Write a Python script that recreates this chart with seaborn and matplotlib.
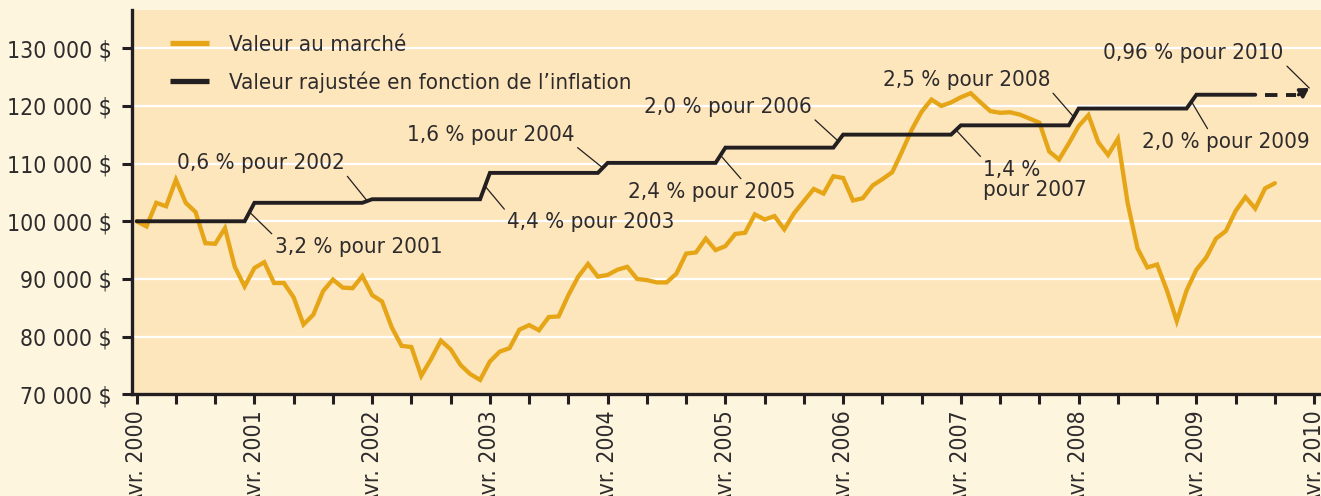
import numpy as np
import pandas as pd
import seaborn as sns
import matplotlib.pyplot as plt
from matplotlib import font_manager
from matplotlib.lines import Line2D
from matplotlib.ticker import FixedLocator, FuncFormatter

# Valeur au marché, une valeur par mois (avril 2000 -> décembre 2009)
market_value = [
    100000, 99100, 103200, 102600, 107200, 103200, 101600, 96200, 96100, 98800,
    92100, 88700, 91900, 92900, 89300, 89300, 86800, 82100, 83800, 87900,
    89900, 88500, 88400, 90500, 87200, 86100, 81600, 78400, 78200, 73200,
    76100, 79300, 77800, 75100, 73500, 72500, 75700, 77400, 78000, 81200,
    82000, 81100, 83400, 83500, 87200, 90400, 92600, 90400, 90700, 91600,
    92100, 90000, 89800, 89400, 89400, 90900, 94400, 94600, 97000, 95000,
    95700, 97800, 98000, 101200, 100300, 100900, 98600, 101400, 103500, 105600,
    104800, 107800, 107500, 103600, 104000, 106200, 107300, 108500, 112100, 115900,
    119000, 121100, 120000, 120600, 121500, 122200, 120600, 119100, 118800, 118900,
    118500, 117800, 117100, 112100, 110700, 113500, 116500, 118400, 113700, 111500,
    114300, 103100, 95300, 92000, 92500, 88000, 82700, 88000, 91600, 93700,
    97000, 98300, 101800, 104200, 102200, 105700, 106600,
]

# Taux d'inflation annuels (appliqués en avril)
inflation_years = [2001, 2002, 2003, 2004, 2005, 2006, 2007, 2008, 2009, 2010]
inflation_rates = [3.2, 0.6, 4.4, 1.6, 2.4, 2.0, 1.4, 2.5, 2.0, 0.96]

y_ticks = [70000, 80000, 90000, 100000, 110000, 120000, 130000]

# couleurs
FIG_BG = "#FEF5DF"
AX_BG = "#FDE6BC"
ORANGE = "#E6A517"
BLACK = "#231F20"
TEXT = "#2E2B2C"

sns.set_style("white", {"axes.facecolor": AX_BG, "figure.facecolor": FIG_BG})

# police étroite si disponible
fonts = font_manager.fontManager.ttflist
if any(f.name == "DejaVu Sans" and f.stretch == "condensed" for f in fonts):
    plt.rcParams["font.family"] = ["DejaVu Sans"]
    plt.rcParams["font.stretch"] = "condensed"
    fs = 16
elif any(f.name == "Liberation Sans Narrow" for f in fonts):
    plt.rcParams["font.family"] = ["Liberation Sans Narrow", "DejaVu Sans"]
    fs = 18.5
else:
    plt.rcParams["font.family"] = ["DejaVu Sans"]
    fs = 14

# niveaux ajustés : 100 000 $ puis un palier par année
levels = 100000 * np.cumprod([1.0] + [1 + r / 100 for r in inflation_rates])
n_solid = 115
months = np.arange(n_solid)
adjusted = levels[months // 12]

market = pd.DataFrame({"mois": np.arange(len(market_value)), "valeur": market_value})
adj = pd.DataFrame({"mois": months, "valeur": adjusted})

fig = plt.figure(figsize=(13.21, 4.96), dpi=100)
ax = fig.add_axes([0.0999, 0.205, 0.9001, 0.775])

ax.grid(axis="y", color="white", lw=1.6)
ax.set_axisbelow(True)

sns.lineplot(data=market, x="mois", y="valeur", color=ORANGE, lw=3.1, ax=ax,
             solid_joinstyle="miter", zorder=3)
sns.lineplot(data=adj, x="mois", y="valeur", color=BLACK, lw=2.8, ax=ax,
             solid_joinstyle="miter", zorder=4)

# prolongement pointillé pour 2010
ax.plot([n_solid, 118.2], [levels[9], levels[9]], color=BLACK, lw=2.8,
        dashes=(3.2, 2.2), zorder=4)
tip = (119.5, levels[10])
ax.annotate("", xy=tip, xytext=(118.4, levels[9]),
            arrowprops=dict(arrowstyle="-|>,head_length=0.5,head_width=0.3",
                            color=BLACK, lw=2.4, shrinkA=0, shrinkB=0,
                            mutation_scale=10), zorder=4)


def rate_text(r):
    s = f"{r:.2f}"
    if s.endswith("0"):
        s = s[:-1]
    return s.replace(".", ",")


# position des étiquettes (mois, valeur), alignement, point d'attache du trait
label_pos = {
    2001: ((14.1, 95540), "left", (0, 1)),
    2002: ((21.2, 110100), "right", (1, 0)),
    2003: ((37.75, 99800), "left", (0, 1)),
    2004: ((44.6, 114960), "right", (1, 0)),
    2005: ((50.1, 105080), "left", (0.69, 1)),
    2006: ((68.8, 119820), "right", (1, 0)),
    2007: ((86.3, 107140), "left", (0, 1)),
    2008: ((93.1, 124500), "right", (1, 0)),
    2009: ((102.5, 113750), "left", (0.4, 1)),
    2010: ((116.9, 129180), "right", (1, 0)),
}

for k, (year, rate) in enumerate(zip(inflation_years, inflation_rates), start=1):
    if year == 2007:
        label = f"{rate_text(rate)} %\npour {year}"
    else:
        label = f"{rate_text(rate)} % pour {year}"
    if year == 2010:
        xy = tip
    else:
        xy = (12 * k - 0.5, (levels[k - 1] + levels[k]) / 2)
    pos, ha, rel = label_pos[year]
    ax.annotate(label, xy=xy, xytext=pos, ha=ha, va="center", fontsize=fs,
                color=TEXT, linespacing=1.05, zorder=5,
                arrowprops=dict(arrowstyle="-", color=BLACK, lw=0.9,
                                shrinkA=0, shrinkB=0, relpos=rel))

# axes
ax.set_xlim(-0.48, 120.7)
ax.set_ylim(70000, 136640)
ax.set_xlabel("")
ax.set_ylabel("")

xt = list(range(0, 121, 4))
ax.xaxis.set_major_locator(FixedLocator(xt))
ax.set_xticklabels([f"Avr. {2000 + m // 12}" if m % 12 == 0 else "" for m in xt],
                   rotation=90, va="top", ha="center")
ax.yaxis.set_major_locator(FixedLocator(y_ticks))
ax.yaxis.set_major_formatter(FuncFormatter(lambda v, p: f"{int(v):,} $".replace(",", " ")))

ax.tick_params(axis="both", direction="out", length=7, width=2.2, color=BLACK,
               labelcolor=TEXT, labelsize=fs + 0.5, bottom=True, left=True)
ax.tick_params(axis="y", pad=7.5)
ax.tick_params(axis="x", pad=4.5)

for side in ["top", "right"]:
    ax.spines[side].set_visible(False)
for side in ["left", "bottom"]:
    ax.spines[side].set_color(BLACK)
    ax.spines[side].set_linewidth(2.4)

# légende
handles = [
    Line2D([], [], color=ORANGE, lw=3.8, solid_capstyle="butt"),
    Line2D([], [], color=BLACK, lw=3.8, solid_capstyle="butt"),
]
ax.legend(handles, ["Valeur au marché", "Valeur rajustée en fonction de l’inflation"],
          loc="upper left", bbox_to_anchor=(0.032, 0.935), frameon=False,
          fontsize=fs, handlelength=1.75, handletextpad=0.9, labelspacing=0.75,
          borderpad=0, borderaxespad=0, labelcolor=TEXT)

fig.savefig("out.png", dpi=100, facecolor=FIG_BG)
